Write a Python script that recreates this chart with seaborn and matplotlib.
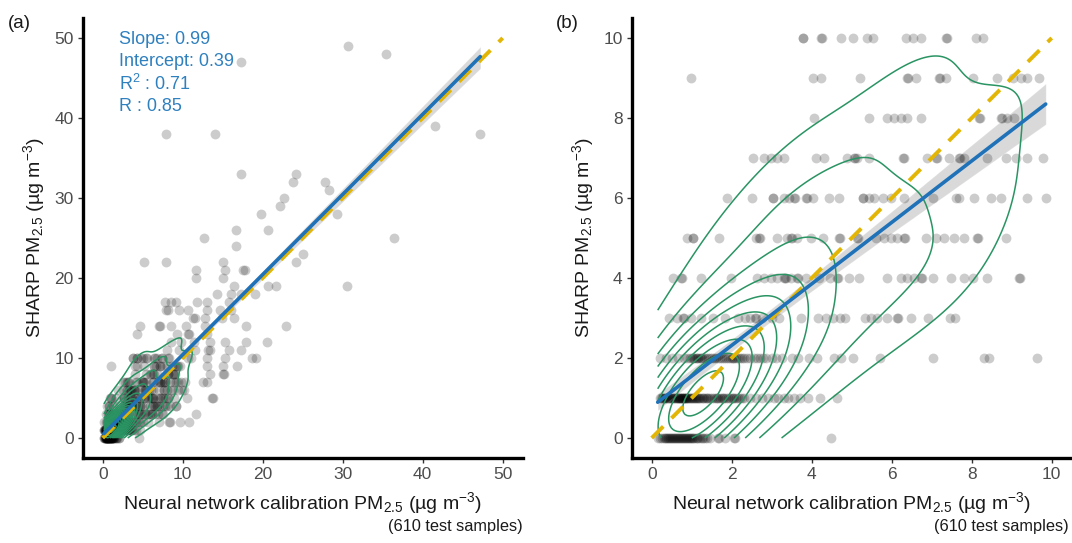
import numpy as np
import pandas as pd
import matplotlib
matplotlib.use("Agg")
import matplotlib.pyplot as plt
import seaborn as sns
from seaborn._statistics import KDE

# ------------------------------------------------------------------
# Data: SHARP PM2.5 (integer rows) vs
# neural-network calibrated PM2.5 (x values for each SHARP level)
# ------------------------------------------------------------------
nn_at_sharp_0 = [0.15, 0.20, 0.25, 0.30, 0.32, 0.35, 0.38, 0.40, 0.42, 0.45, 0.48, 0.50,
                 0.52, 0.55, 0.57, 0.60, 0.62, 0.65, 0.68, 0.70, 0.72, 0.75, 0.78, 0.80,
                 0.83, 0.85, 0.88, 0.90, 0.92, 0.95, 0.98, 1.00, 1.03, 1.06, 1.10, 1.12,
                 1.15, 1.20, 1.25, 1.28, 1.32, 1.38, 1.45, 1.65, 1.68, 1.82, 2.05, 2.08,
                 4.49]
nn_at_sharp_1 = [0.20, 0.22, 0.25, 0.28, 0.30, 0.32, 0.35, 0.38, 0.40, 0.42, 0.45, 0.48,
                 0.50, 0.52, 0.55, 0.58, 0.60, 0.62, 0.65, 0.65, 0.68, 0.70, 0.70, 0.72,
                 0.75, 0.75, 0.78, 0.80, 0.80, 0.82, 0.85, 0.85, 0.88, 0.90, 0.92, 0.95,
                 0.98, 1.00, 1.02, 1.05, 1.08, 1.10, 1.12, 1.15, 1.18, 1.20, 1.25, 1.28,
                 1.30, 1.35, 1.38, 1.40, 1.45, 1.50, 1.55, 1.60, 1.62, 1.65, 1.70, 1.75,
                 1.78, 1.80, 1.85, 1.90, 1.95, 2.00, 2.02, 2.05, 2.10, 2.15, 2.20, 2.25,
                 2.30, 2.45, 2.60, 2.75, 2.90, 3.05, 3.15, 3.30, 3.40, 3.55, 3.70, 3.90,
                 4.20, 4.62]
nn_at_sharp_2 = [0.20, 0.35, 0.50, 0.65, 0.80, 0.88, 0.95, 1.00, 1.02, 1.05, 1.10, 1.12,
                 1.15, 1.20, 1.22, 1.25, 1.30, 1.35, 1.40, 1.45, 1.50, 1.55, 1.60, 1.65,
                 1.70, 1.75, 1.80, 1.85, 1.90, 1.95, 2.00, 2.02, 2.05, 2.10, 2.15, 2.20,
                 2.25, 2.30, 2.38, 2.45, 2.55, 2.62, 2.70, 2.78, 2.85, 3.00, 3.10, 3.25,
                 3.50, 3.65, 3.92, 4.12, 4.55, 4.72, 5.02, 5.70, 7.03, 8.31, 8.43, 9.62]
nn_at_sharp_3 = [0.42, 0.64, 0.78, 0.81, 0.97, 1.23, 1.53, 1.82, 2.16, 2.33, 2.46, 2.58,
                 2.60, 2.75, 3.01, 3.18, 3.73, 4.15, 4.36, 4.53, 4.70, 4.83, 5.34, 5.47,
                 5.64, 5.89, 6.14, 6.16, 6.48, 6.91, 7.46, 7.58]
nn_at_sharp_4 = [0.52, 0.73, 0.75, 1.23, 1.98, 2.64, 2.81, 2.98, 3.14, 3.31, 3.33, 3.35,
                 3.48, 3.64, 3.66, 3.85, 4.19, 4.45, 4.64, 4.66, 4.93, 5.18, 5.89, 6.23,
                 6.39, 6.56, 6.73, 6.75, 7.02, 7.48, 7.81, 8.02, 8.39, 9.18, 9.20]
nn_at_sharp_5 = [0.89, 1.02, 1.04, 1.67, 2.60, 2.68, 2.70, 3.14, 3.39, 3.48, 3.50, 3.64,
                 3.98, 4.27, 4.68, 4.70, 5.14, 5.16, 5.60, 5.81, 5.98, 6.14, 6.31, 6.33,
                 6.85, 7.10, 7.31, 7.56, 7.81, 8.14, 8.16, 8.85]
nn_at_sharp_6 = [1.88, 2.50, 3.02, 3.04, 3.31, 3.43, 3.56, 3.58, 3.85, 3.87, 4.04, 4.43,
                 4.68, 5.27, 5.29, 5.43, 5.56, 5.77, 5.98, 6.31, 7.02, 7.60, 7.68, 8.06,
                 8.48, 8.73, 9.39, 9.85]
nn_at_sharp_7 = [2.52, 2.81, 2.98, 3.14, 3.31, 4.10, 4.31, 4.89, 5.06, 5.08, 5.14, 5.43,
                 6.29, 6.31, 6.89, 7.10, 7.12, 7.43, 7.68, 7.70, 7.81, 8.39, 8.85, 9.10,
                 9.39, 9.79]
nn_at_sharp_8 = [4.06, 5.42, 5.89, 6.06, 6.23, 6.39, 6.73, 8.18, 8.20, 8.73, 8.75, 8.89, 9.06]
nn_at_sharp_9 = [0.98, 4.02, 4.23, 5.21, 6.38, 6.40, 6.60, 7.18, 7.20, 7.35, 8.03, 8.64,
                 9.02, 9.23, 9.39, 9.68]
nn_at_sharp_10 = [3.77, 3.79, 4.23, 4.25, 4.73, 5.02, 5.39, 5.52, 6.35, 6.52, 6.73, 7.35,
                  7.37, 8.10, 8.27]

# samples outside the 0-10 window (visible only in panel a)
high_nn = [30.7, 35.4, 17.3, 7.9, 14.0, 41.5, 47.2,
           17.3, 24.2, 23.8, 27.8, 28.3, 22.6, 22.2, 19.8, 29.3,
           16.7, 20.6, 12.7, 36.4, 16.7, 25.0,
           5.2, 7.9, 15.0, 24.2, 11.7, 15.3, 17.5, 17.8,
           11.7, 15.0, 30.5, 20.6, 21.6, 16.4,
           19.0, 17.3, 14.3, 16.0,
           7.8, 8.5, 9.1, 11.8, 13.0, 15.8,
           7.9, 8.2, 9.5, 10.6, 13.0, 14.7, 16.0,
           11.3, 11.5, 12.8, 14.9, 16.4,
           4.7, 7.0, 7.2, 8.5, 10.4, 12.8, 17.9, 22.9,
           4.3, 9.3, 10.6, 10.8, 13.0,
           8.5, 9.8, 11.4, 13.4, 15.3, 17.9, 20.5,
           8.0, 9.5, 11.5, 13.2, 13.4, 15.8, 17.3,
           10.6, 11.0, 13.0, 15.3, 18.6, 19.2,
           13.0, 15.0, 16.8, 13.4, 15.0, 15.1, 12.5, 13.0, 10.3, 10.2, 10.5,
           13.6, 13.8, 11.7, 10.8]
high_sharp = [49, 48, 47, 38, 38, 39, 38,
              33, 33, 32, 32, 31, 30, 29, 28, 28,
              26, 26, 25, 25, 24, 23,
              22, 22, 22, 22, 21, 21, 21, 21,
              20, 20, 19, 19, 19, 19,
              18, 18, 18, 18,
              17, 17, 17, 17, 17, 17,
              16, 16, 16, 16, 16, 16, 16,
              15, 15, 15, 15, 15,
              14, 14, 14, 14, 14, 14, 14, 14,
              13, 13, 13, 13, 13,
              12, 12, 12, 12, 12, 12, 12,
              11, 11, 11, 11, 11, 11, 11,
              10, 10, 10, 10, 10, 10,
              9, 9, 9, 8, 8, 8, 7, 7, 7, 6, 5,
              5, 5, 3, 2]

one_to_one_a = [0, 50]
one_to_one_b = [0, 10]
ticks_a = [0, 10, 20, 30, 40, 50]
ticks_b = [0, 2, 4, 6, 8, 10]
stats_lines = ["Slope: 0.99", "Intercept: 0.39", "R$^2$ : 0.71", "R : 0.85"]

rows = [nn_at_sharp_0, nn_at_sharp_1, nn_at_sharp_2, nn_at_sharp_3, nn_at_sharp_4,
        nn_at_sharp_5, nn_at_sharp_6, nn_at_sharp_7, nn_at_sharp_8, nn_at_sharp_9,
        nn_at_sharp_10]
nn_vals, sharp_vals = [], []
for level, xs in enumerate(rows):
    nn_vals += xs
    sharp_vals += [level] * len(xs)
nn_vals += high_nn
sharp_vals += high_sharp
df = pd.DataFrame({"nn": np.array(nn_vals, float), "sharp": np.array(sharp_vals, float)})
low = df[(df.nn <= 10) & (df.sharp <= 10)]

# ------------------------------------------------------------------
sns.set_theme(style="ticks")
plt.rcParams["font.family"] = ["Liberation Sans", "DejaVu Sans"]
plt.rcParams["mathtext.fontset"] = "custom"
plt.rcParams["mathtext.rm"] = "Liberation Sans"
plt.rcParams["mathtext.it"] = "Liberation Sans:italic"
plt.rcParams["mathtext.bf"] = "Liberation Sans:bold"

GREEN = "#2a9463"
BLUE = "#1f72b8"
TXT_BLUE = "#2f80bf"
YELLOW = "#e3b505"

W, H = 1072, 543
fig = plt.figure(figsize=(W / 100, H / 100), dpi=100)
axA = fig.add_axes([82.7 / W, (H - 458) / H, 440 / W, 440 / H])
axB = fig.add_axes([631.7 / W, (H - 458) / H, 440 / W, 440 / H])


def equal_density_levels(d, bw_adjust, clip, gridsize, n_levels, lo, hi):
    """Contour levels evenly spaced in density (as in ggplot's density_2d),
    converted to seaborn's iso-proportion scale."""
    est = KDE(bw_adjust=bw_adjust, gridsize=gridsize, cut=3, clip=clip)
    dens, _ = est(d["nn"].to_numpy(float), d["sharp"].to_numpy(float))
    vals = np.sort(dens.ravel())[::-1]
    cum = np.cumsum(vals) / vals.sum()
    props = []
    for frac in np.linspace(lo, hi, n_levels):
        t = frac * dens.max()
        idx = int(np.searchsorted(-vals, -t))
        idx = max(1, min(idx, len(cum) - 1))
        props.append(float(1 - cum[idx - 1]))
    return sorted(set(round(p, 6) for p in props if 0 < p < 1))


def panel(ax, d, line, lim, ticks, bw_adjust, gridsize, n_levels, lo, hi, ci):
    sns.scatterplot(data=d, x="nn", y="sharp", ax=ax, color="black", alpha=0.2,
                    s=50, linewidth=0, zorder=1)
    clip = ((d.nn.min(), d.nn.max()), (d.sharp.min(), d.sharp.max()))
    levels = equal_density_levels(d, bw_adjust, clip, gridsize, n_levels, lo, hi)
    sns.kdeplot(data=d, x="nn", y="sharp", ax=ax, levels=levels, bw_adjust=bw_adjust,
                gridsize=gridsize, clip=clip, color=GREEN, linewidths=1.1, zorder=2)
    ax.plot(line, line, color=YELLOW, lw=2.8, dashes=(4.2, 3.0), zorder=3,
            dash_capstyle="butt")
    sns.regplot(data=d, x="nn", y="sharp", ax=ax, scatter=False, color="black", ci=ci,
                line_kws={"alpha": 0, "zorder": 4}, seed=3)
    sns.regplot(data=d, x="nn", y="sharp", ax=ax, scatter=False, ci=None, color=BLUE,
                line_kws={"lw": 2.6, "zorder": 5})
    pad = lim * 0.05
    ax.set_xlim(-pad, lim + pad)
    ax.set_ylim(-pad, lim + pad)
    ax.set_xticks(ticks)
    ax.set_yticks(ticks)
    sns.despine(ax=ax)
    for side in ("left", "bottom"):
        ax.spines[side].set_linewidth(2.4)
        ax.spines[side].set_color("black")
    ax.tick_params(axis="both", direction="out", length=3.5, width=1.0, color="#333333",
                   labelsize=12.5, labelcolor="#4d4d4d", pad=3)
    ax.set_xlabel("Neural network calibration PM$_{2.5}$ (µg m$^{-3}$)", fontsize=14,
                  color="#1a1a1a")
    ax.set_ylabel("SHARP PM$_{2.5}$ (µg m$^{-3}$)", fontsize=14, color="#1a1a1a")
    ax.xaxis.label.set_verticalalignment("center")
    ax.yaxis.label.set_verticalalignment("center")
    ax.xaxis.set_label_coords(0.5, -0.102)
    ax.yaxis.set_label_coords(-0.11, 0.5)
    ax.grid(False)


panel(axA, df, one_to_one_a, 50, ticks_a, bw_adjust=0.6, gridsize=300,
      n_levels=16, lo=0.06, hi=0.97, ci=45)
panel(axB, low, one_to_one_b, 10, ticks_b, bw_adjust=1.3, gridsize=200,
      n_levels=10, lo=0.125, hi=0.95, ci=90)

# statistics annotation (panel a)
for i, line in enumerate(stats_lines):
    fig.text(119 / W, 1 - (39 + i * 22.5) / H, line, color=TXT_BLUE, fontsize=13,
             ha="left", va="center")

fig.text(8 / W, 1 - 23 / H, "(a)", fontsize=13.5, ha="left", va="center", color="#1a1a1a")
fig.text(556 / W, 1 - 23 / H, "(b)", fontsize=13.5, ha="left", va="center", color="#1a1a1a")
fig.text(523 / W, 1 - 527 / H, "(610 test samples)", fontsize=11.8, ha="right",
         va="center", color="#1a1a1a")
fig.text(1069 / W, 1 - 527 / H, "(610 test samples)", fontsize=11.8, ha="right",
         va="center", color="#1a1a1a")

fig.savefig("out.png", dpi=100)
